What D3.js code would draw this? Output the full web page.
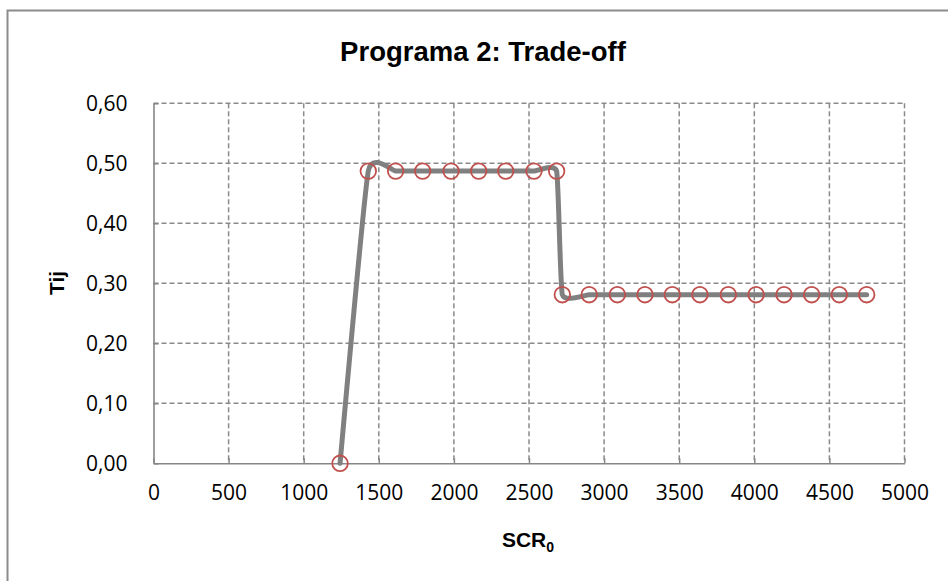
<!DOCTYPE html>
<html>
<head>
<meta charset="utf-8">
<script src="https://cdn.jsdelivr.net/npm/d3@7"></script>
<style>
  html, body { margin: 0; padding: 0; background: #fff; }
  svg { display: block; }
</style>
</head>
<body>
<svg id="chart" width="948" height="581"></svg>
<script>
// SCR0 values along the horizontal axis and the matching Tij values
const scrValues = [1242, 1430, 1612, 1792, 1981, 2165, 2345, 2533, 2684,
                   2722, 2901, 3088, 3272, 3454, 3638, 3827, 4012, 4198, 4382, 4566, 4748];
const tijValues = [0.000, 0.487, 0.487, 0.487, 0.487, 0.487, 0.487, 0.487, 0.487,
                   0.281, 0.281, 0.281, 0.281, 0.281, 0.281, 0.281, 0.281, 0.281, 0.281, 0.281, 0.281];

const xTicks = [0, 500, 1000, 1500, 2000, 2500, 3000, 3500, 4000, 4500, 5000];
const yTicks = [0, 0.1, 0.2, 0.3, 0.4, 0.5, 0.6];

const titleText = "Programa 2: Trade-off";
const yTitle = "Tij";
const xTitleMain = "SCR";
const xTitleSub = "0";

const W = 948, H = 581;
const margin = { left: 153.5, right: 43.5, top: 103.3, bottom: 117.7 };

const svg = d3.select("#chart");

const x = d3.scaleLinear().domain([0, 5000]).range([margin.left, W - margin.right]);
const y = d3.scaleLinear().domain([0, 0.6]).range([H - margin.bottom, margin.top]);

const gridColor = "#8a8a8a";
const axisColor = "#868686";
const tickFont = "'Open Sans', 'DejaVu Sans', sans-serif";
const boldFont = "'Liberation Sans', Arial, sans-serif";

// Outer frame (left and top edges)
svg.append("path")
  .attr("d", `M7.5,${H} V10.5 H${W}`)
  .attr("fill", "none")
  .attr("stroke", "#8c8c8c")
  .attr("stroke-width", 2);

// Dashed grid
const grid = svg.append("g");
grid.selectAll("line.vg")
  .data(xTicks.filter(d => d > 0))
  .join("line")
  .attr("class", "vg")
  .attr("x1", d => x(d)).attr("x2", d => x(d))
  .attr("y1", y(0.6)).attr("y2", y(0))
  .attr("stroke", gridColor)
  .attr("stroke-width", 1.5)
  .attr("stroke-dasharray", "5,3");
grid.selectAll("line.hg")
  .data(yTicks.filter(d => d > 0))
  .join("line")
  .attr("class", "hg")
  .attr("x1", x(0)).attr("x2", x(5000))
  .attr("y1", d => y(d)).attr("y2", d => y(d))
  .attr("stroke", gridColor)
  .attr("stroke-width", 1.5)
  .attr("stroke-dasharray", "5,3");

// Axes
const xAxis = d3.axisBottom(x).tickValues(xTicks).tickSizeInner(-5).tickSizeOuter(0).tickPadding(22)
  .tickFormat(d3.format("d"));
const yAxis = d3.axisLeft(y).tickValues(yTicks).tickSizeInner(-5).tickSizeOuter(0).tickPadding(26)
  .tickFormat(d => d3.format(".2f")(d).replace(".", ","));

const gx = svg.append("g").attr("transform", `translate(0,${y(0)})`).call(xAxis);
const gy = svg.append("g").attr("transform", `translate(${x(0)},0)`).call(yAxis);

[gx, gy].forEach(g => {
  g.select(".domain").attr("stroke", axisColor).attr("stroke-width", 1.6);
  g.selectAll(".tick line").attr("stroke", axisColor).attr("stroke-width", 1.5);
  g.selectAll(".tick text")
    .attr("fill", "#000")
    .style("font-family", tickFont)
    .style("font-size", "21px");
});

// Series line (smoothed)
const pts = scrValues.map((v, i) => [v, tijValues[i]]);
const line = d3.line()
  .x(d => x(d[0]))
  .y(d => y(d[1]))
  .curve(d3.curveCardinal.tension(0.6));

svg.append("path")
  .datum(pts)
  .attr("d", line)
  .attr("fill", "none")
  .attr("stroke", "#808080")
  .attr("stroke-width", 5)
  .attr("stroke-linecap", "round")
  .attr("stroke-linejoin", "round");

// Markers
svg.append("g").selectAll("circle")
  .data(pts)
  .join("circle")
  .attr("cx", d => x(d[0]))
  .attr("cy", d => y(d[1]))
  .attr("r", 7.8)
  .attr("fill", "none")
  .attr("stroke", "#c0504d")
  .attr("stroke-width", 1.8);

// Title
svg.append("text")
  .attr("x", 483)
  .attr("y", 61)
  .attr("text-anchor", "middle")
  .style("font-family", boldFont)
  .style("font-weight", "bold")
  .style("font-size", "27.5px")
  .text(titleText);

// Y axis title
svg.append("text")
  .attr("transform", `translate(64,283) rotate(-90)`)
  .attr("text-anchor", "middle")
  .style("font-family", boldFont)
  .style("font-weight", "bold")
  .style("font-size", "21px")
  .text(yTitle);

// X axis title with subscript
const xt = svg.append("text")
  .attr("x", 528)
  .attr("y", 547)
  .attr("text-anchor", "middle")
  .style("font-family", boldFont)
  .style("font-weight", "bold")
  .style("font-size", "21px");
xt.append("tspan").text(xTitleMain);
xt.append("tspan").attr("dy", 5).style("font-size", "14px").text(xTitleSub);
</script>
</body>
</html>
